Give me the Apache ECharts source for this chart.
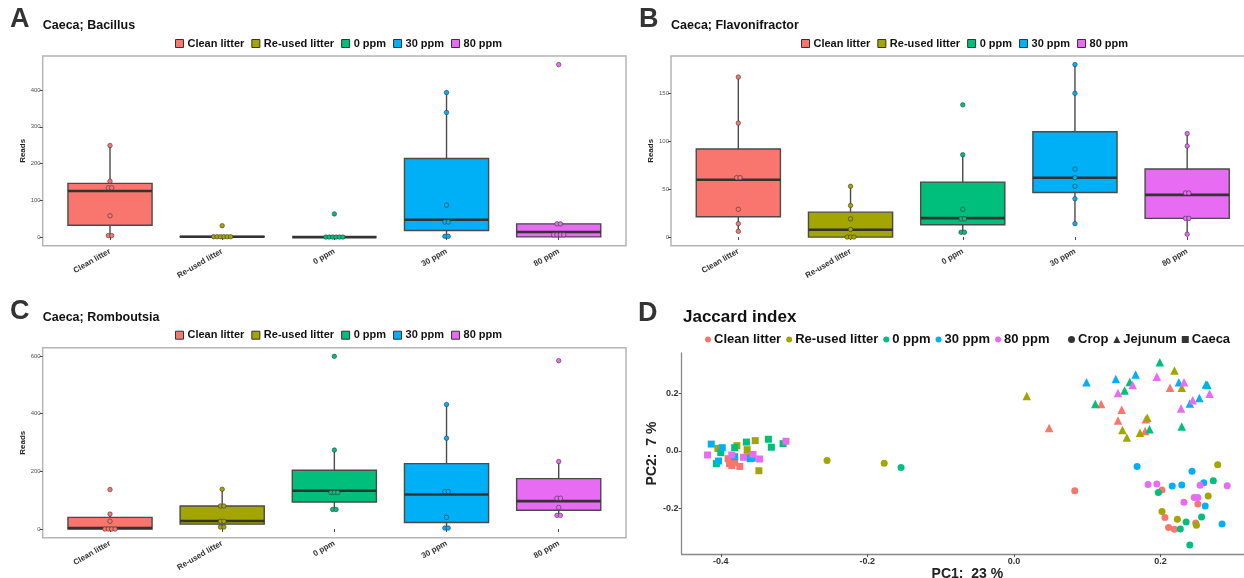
<!DOCTYPE html>
<html><head><meta charset="utf-8">
<script src="https://cdn.jsdelivr.net/npm/echarts@6/dist/echarts.min.js"></script>
<style>html,body{margin:0;padding:0;background:#fff;overflow:hidden}.p{position:absolute;left:0;top:0;width:1244px;height:578px}</style>
</head><body>
<div id="pa" class="p"></div><div id="pb" class="p"></div><div id="pc" class="p"></div><div id="pd" class="p"></div>
<script>
// ---------- shared ----------
const categories = ['Clean litter', 'Re-used litter', '0 ppm', '30 ppm', '80 ppm'];
const groupColors = ['#F8766D', '#A3A500', '#00BF7D', '#00B0F6', '#E76BF3'];

// ---------- A: Caeca; Bacillus ----------
const bacillusLow    = [4, 1, 0, 2, 0];
const bacillusQ1     = [32, 1, 0, 18, 0.5];
const bacillusMedian = [125.5, 1, 0, 47, 14];
const bacillusQ3     = [146, 1.5, 0, 213.6, 36];
const bacillusHigh   = [249, 2, 0, 393, 36];
const bacillusPoints = [
  [249, 152, 134, 134, 58, 4, 4],
  [31, 1, 1, 1, 1, 1, 1],
  [63, 0, 0, 0, 0, 0, 0],
  [393, 339, 87, 41, 41, 2, 2],
  [469, 36, 36, 6, 6, 6, 6]
];
const bacillusTicks = [0, 100, 200, 300, 400];

// ---------- B: Caeca; Flavonifractor ----------
const flavoLow    = [6, 0, 5, 14, 3];
const flavoQ1     = [21.2, 0, 12.9, 46.6, 19.5];
const flavoMedian = [59.8, 7.7, 19.8, 62, 44];
const flavoQ3     = [91.9, 26, 57.4, 110, 71];
const flavoHigh   = [167, 53, 86, 180, 108];
const flavoPoints = [
  [167, 119, 62, 62, 29, 14, 6],
  [53, 33, 19, 8, 0, 0, 0],
  [138, 86, 29, 19, 19, 5, 5],
  [180, 150, 71, 62, 53, 40, 14],
  [108, 95, 46, 46, 19.5, 19.5, 3]
];
const flavoTicks = [0, 50, 100, 150];

// ---------- C: Caeca; Romboutsia ----------
const rombLow    = [0, 7, 68, 3.5, 47.5];
const rombQ1     = [0, 17, 94, 23, 65];
const rombMedian = [3.5, 28, 133, 120, 97];
const rombQ3     = [40.5, 80, 204, 227, 175];
const rombHigh   = [52, 138, 274.5, 432, 234];
const rombPoints = [
  [137, 52, 27, 0, 0, 0, 0],
  [138, 80, 80, 27, 27, 7, 7],
  [599, 274, 127, 127, 127, 68, 68],
  [432, 315, 130, 130, 40.5, 3.5, 3.5],
  [584, 234, 107, 107, 75, 47.5, 47.5]
];
const rombTicks = [0, 200, 400, 600];

// ---------- D: Jaccard index PCoA ----------
const tissues = ['Crop', 'Jejunum', 'Caeca'];
const cropPoints = [
  [[0.083,-0.139],[0.202,-0.136],[0.251,-0.185],[0.206,-0.232],[0.248,-0.251],[0.211,-0.267],[0.219,-0.273]],
  [[-0.255,-0.033],[-0.177,-0.043],[0.278,-0.048],[0.265,-0.157],[0.202,-0.211],[0.223,-0.238],[0.249,-0.259]],
  [[-0.154,-0.058],[0.197,-0.145],[0.272,-0.104],[0.235,-0.248],[0.256,-0.230],[0.227,-0.272],[0.240,-0.328]],
  [[0.168,-0.054],[0.216,-0.122],[0.229,-0.119],[0.243,-0.071],[0.259,-0.111],[0.261,-0.192],[0.284,-0.255]],
  [[0.183,-0.117],[0.195,-0.115],[0.254,-0.120],[0.291,-0.121],[0.246,-0.162],[0.251,-0.162],[0.232,-0.179]]
];
const jejunumPoints = [
  [[0.048,0.080],[0.119,0.164],[0.147,0.144],[0.142,0.106],[0.179,0.070],[0.180,0.111],[0.213,0.221]],
  [[0.0175,0.192],[0.148,0.073],[0.154,0.047],[0.172,0.064],[0.182,0.116],[0.219,0.281],[0.229,0.221]],
  [[0.111,0.164],[0.151,0.211],[0.158,0.241],[0.185,0.076],[0.199,0.310],[0.229,0.085],[0.264,0.230]],
  [[0.099,0.240],[0.139,0.251],[0.166,0.267],[0.225,0.240],[0.240,0.166],[0.253,0.185],[0.262,0.232]],
  [[0.142,0.202],[0.162,0.230],[0.195,0.259],[0.232,0.240],[0.228,0.148],[0.244,0.177],[0.267,0.200]]
];
const caecaPoints = [
  [[-0.390,-0.027],[-0.386,-0.035],[-0.381,-0.040],[-0.385,-0.051],[-0.374,-0.054],[-0.383,-0.030],[-0.388,-0.044]],
  [[-0.404,0.009],[-0.401,0.009],[-0.378,0.0185],[-0.353,0.036],[-0.364,0.0045],[-0.364,-0.020],[-0.348,-0.069]],
  [[-0.400,-0.006],[-0.406,-0.044],[-0.381,0.0115],[-0.365,0.031],[-0.335,0.041],[-0.331,0.013],[-0.315,0.0255]],
  [[-0.413,0.024],[-0.398,0.0115],[-0.403,-0.035],[-0.381,-0.020],[-0.360,-0.027],[-0.357,-0.025]],
  [[-0.418,-0.014],[-0.385,-0.014],[-0.369,-0.022],[-0.356,-0.012],[-0.347,-0.028],[-0.311,0.034]]
];
const pc1Ticks = [-0.4, -0.2, 0, 0.2];
const pc2Ticks = [-0.2, 0, 0.2];

const FONT = 'Liberation Sans, Arial, Helvetica, sans-serif';

function boxPanel(el, cfg) {
  const chart = echarts.init(el);
  const all = cfg.points.flat().concat(cfg.low, cfg.high);
  const dmin = Math.min(...all), dmax = Math.max(...all);
  const pad = (dmax - dmin) * 0.05;
  const fr = cfg.frame;
  const W = 1244 - fr.left - fr.right;
  const inset = W * 0.1 / 5.2;
  const stroke = '#4a4a4a';
  const series = [{
    type: 'custom', xAxisIndex: 1, yAxisIndex: 1, z: 2, silent: true,
    data: categories.map((c, i) => [i, cfg.low[i], cfg.q1[i], cfg.med[i], cfg.q3[i], cfg.high[i]]),
    encode: { x: 0, y: [1, 2, 3, 4, 5] },
    renderItem(params, api) {
      const i = api.value(0);
      const pLo = api.coord([i, api.value(1)]);
      const pQ1 = api.coord([i, api.value(2)]);
      const pMd = api.coord([i, api.value(3)]);
      const pQ3 = api.coord([i, api.value(4)]);
      const pHi = api.coord([i, api.value(5)]);
      const bw = api.size([1, 0])[0] * 0.75;
      const x = pMd[0];
      return { type: 'group', children: [
        { type: 'line', shape: { x1: x, y1: pHi[1], x2: x, y2: pQ3[1] }, style: { stroke, lineWidth: 1.4 } },
        { type: 'line', shape: { x1: x, y1: pQ1[1], x2: x, y2: pLo[1] }, style: { stroke, lineWidth: 1.4 } },
        { type: 'rect', shape: { x: x - bw / 2, y: pQ3[1], width: bw, height: pQ1[1] - pQ3[1] }, style: { fill: groupColors[i], stroke, lineWidth: 1.4 } },
        { type: 'line', shape: { x1: x - bw / 2, y1: pMd[1], x2: x + bw / 2, y2: pMd[1] }, style: { stroke: '#333', lineWidth: 2.6 } }
      ] };
    }
  }];
  categories.forEach((name, i) => {
    const vals = cfg.points[i];
    const counts = {}, seen = {};
    vals.forEach(v => { counts[v] = (counts[v] || 0) + 1; });
    const data = vals.map(v => {
      const k = seen[v] || 0; seen[v] = k + 1;
      const n = counts[v];
      return { value: [i, v], symbolOffset: [(k - (n - 1) / 2) * 3.4, 0] };
    });
    series.push({
      type: 'scatter', name, xAxisIndex: 1, yAxisIndex: 1, z: 3, symbolSize: 4.5,
      itemStyle: { color: groupColors[i], borderColor: 'rgba(50,50,50,0.8)', borderWidth: 0.7, opacity: 1 },
      data
    });
  });
  chart.setOption({
    animation: false,
    textStyle: { fontFamily: FONT },
    title: [
      { text: cfg.letter, left: cfg.letterLeft, top: fr.top - 50, padding: 0, textStyle: { fontSize: 27, fontWeight: 'bold', color: '#333', fontFamily: FONT } },
      { text: cfg.title, left: fr.left, top: fr.top - 37, padding: 0, textStyle: { fontSize: 12.5, fontWeight: 'bold', color: '#111', fontFamily: FONT } }
    ],
    legend: {
      left: cfg.legendLeft, top: fr.top - 18, padding: 0, itemGap: 7, itemWidth: 8, itemHeight: 8,
      icon: 'rect', selectedMode: false,
      itemStyle: { borderColor: '#333', borderWidth: 1 },
      textStyle: { fontSize: 11, fontWeight: 'bold', color: '#111', fontFamily: FONT, padding: [0, 0, 0, -1] },
      data: categories
    },
    grid: [
      { left: fr.left, right: fr.right, top: fr.top, bottom: fr.bottom, show: true, borderColor: '#b5b5b5', borderWidth: 1.5, backgroundColor: 'transparent', outerBoundsMode: 'none', containLabel: false },
      { left: fr.left + inset, right: fr.right + inset, top: fr.top, bottom: fr.bottom, outerBoundsMode: 'none', containLabel: false }
    ],
    xAxis: [
      { gridIndex: 0, type: 'value', show: false, min: 0, max: 1 },
      { gridIndex: 1, type: 'category', data: categories,
        axisLine: { show: false },
        axisTick: { show: true, alignWithLabel: true, length: 3, lineStyle: { color: '#444' } },
        axisLabel: { rotate: 30, interval: 0, fontSize: 8, fontWeight: 'bold', color: '#333', margin: 5, fontFamily: FONT },
        splitLine: { show: false } }
    ],
    yAxis: [
      { gridIndex: 0, type: 'value', show: false, min: 0, max: 1 },
      { gridIndex: 1, type: 'value', min: dmin - pad, max: dmax + pad, offset: inset,
        axisLine: { show: false },
        axisTick: { show: true, length: 3, customValues: cfg.ticks, lineStyle: { color: '#444' } },
        axisLabel: { customValues: cfg.ticks, fontSize: 6, color: '#555', margin: 2, fontFamily: FONT },
        splitLine: { show: false },
        name: 'Reads', nameLocation: 'middle', nameGap: 15, nameRotate: 90,
        nameTextStyle: { fontSize: 8, fontWeight: 'bold', color: '#222', fontFamily: FONT } }
    ],
    series
  });
}

boxPanel(document.getElementById('pa'), {
  letter: 'A', letterLeft: 10, title: 'Caeca; Bacillus', legendLeft: 175,
  frame: { left: 42.7, right: 1244 - 626, top: 56, bottom: 578 - 245.7 },
  low: bacillusLow, q1: bacillusQ1, med: bacillusMedian, q3: bacillusQ3, high: bacillusHigh,
  points: bacillusPoints, ticks: bacillusTicks
});
boxPanel(document.getElementById('pb'), {
  letter: 'B', letterLeft: 639, title: 'Caeca; Flavonifractor', legendLeft: 801,
  frame: { left: 671, right: -10.5, top: 56, bottom: 578 - 245.7 },
  low: flavoLow, q1: flavoQ1, med: flavoMedian, q3: flavoQ3, high: flavoHigh,
  points: flavoPoints, ticks: flavoTicks
});
boxPanel(document.getElementById('pc'), {
  letter: 'C', letterLeft: 10, title: 'Caeca; Romboutsia', legendLeft: 175,
  frame: { left: 42.7, right: 1244 - 626, top: 347.7, bottom: 578 - 537.7 },
  low: rombLow, q1: rombQ1, med: rombMedian, q3: rombQ3, high: rombHigh,
  points: rombPoints, ticks: rombTicks
});

// ---------- D ----------
(function () {
  const chart = echarts.init(document.getElementById('pd'));
  const xs = [], ys = [];
  [cropPoints, jejunumPoints, caecaPoints].forEach(t => t.forEach(g => g.forEach(p => { xs.push(p[0]); ys.push(p[1]); })));
  const xmin = Math.min(...xs), xmax = Math.max(...xs), ymin = Math.min(...ys), ymax = Math.max(...ys);
  const xp = (xmax - xmin) * 0.05, yp = (ymax - ymin) * 0.05;
  const shapes = { Crop: 'circle', Jejunum: 'triangle', Caeca: 'rect' };
  const sizes = { Crop: 7, Jejunum: 8.5, Caeca: 7 };
  const tissueData = { Crop: cropPoints, Jejunum: jejunumPoints, Caeca: caecaPoints };
  const series = [];
  ['Crop', 'Caeca', 'Jejunum'].forEach(t => {
    categories.forEach((name, i) => {
      series.push({ type: 'scatter', name, symbol: shapes[t], symbolSize: sizes[t],
        itemStyle: { color: groupColors[i], opacity: 1 }, data: tissueData[t][i] });
    });
  });
  tissues.forEach(t => series.push({ type: 'scatter', name: t, symbol: shapes[t], itemStyle: { color: '#000' }, data: [] }));
  const fmt = v => (v === 0 ? '0.0' : v.toFixed(1));
  chart.setOption({
    animation: false,
    textStyle: { fontFamily: FONT },
    title: [
      { text: 'D', left: 638, top: 300, padding: 0, textStyle: { fontSize: 27, fontWeight: 'bold', color: '#333', fontFamily: FONT } },
      { text: 'Jaccard index', left: 683, top: 309, padding: 0, textStyle: { fontSize: 17, fontWeight: 'bold', color: '#111', fontFamily: FONT } }
    ],
    legend: [
      { left: 705, top: 333, padding: 0, itemGap: 5, itemWidth: 6, itemHeight: 6, icon: 'circle', selectedMode: false,
        textStyle: { fontSize: 13, fontWeight: 'bold', color: '#111', fontFamily: FONT, padding: [0, 0, 0, -2] },
        data: categories },
      { left: 1068, top: 333, padding: 0, itemGap: 5, itemWidth: 7, itemHeight: 7, selectedMode: false,
        textStyle: { fontSize: 13, fontWeight: 'bold', color: '#111', fontFamily: FONT, padding: [0, 0, 0, -2] },
        data: tissues.map(t => ({ name: t, icon: shapes[t] })) }
    ],
    grid: { left: 681.6, right: -9.2, top: 353, bottom: 23.9, outerBoundsMode: 'none', containLabel: false },
    xAxis: { type: 'value', min: xmin - xp, max: xmax + xp,
      axisLine: { show: true, onZero: false, lineStyle: { color: '#888', width: 1.3 } },
      axisTick: { show: true, length: 3, customValues: pc1Ticks, lineStyle: { color: '#555' } },
      axisLabel: { customValues: pc1Ticks, formatter: fmt, fontSize: 9, fontWeight: 'bold', color: '#333', margin: 3, fontFamily: FONT },
      splitLine: { show: false },
      name: 'PC1:  23 %', nameLocation: 'middle', nameGap: 11,
      nameTextStyle: { fontSize: 14, fontWeight: 'bold', color: '#222', fontFamily: FONT } },
    yAxis: { type: 'value', min: ymin - yp, max: ymax + yp,
      axisLine: { show: true, onZero: false, lineStyle: { color: '#888', width: 1.3 } },
      axisTick: { show: true, length: 3, customValues: pc2Ticks, lineStyle: { color: '#555' } },
      axisLabel: { customValues: pc2Ticks, formatter: fmt, fontSize: 9, fontWeight: 'bold', color: '#333', margin: 3, fontFamily: FONT },
      splitLine: { show: false },
      name: 'PC2:  7 %', nameLocation: 'middle', nameGap: 18, nameRotate: 90,
      nameTextStyle: { fontSize: 14, fontWeight: 'bold', color: '#222', fontFamily: FONT } },
    series
  });
})();
</script></body></html>
